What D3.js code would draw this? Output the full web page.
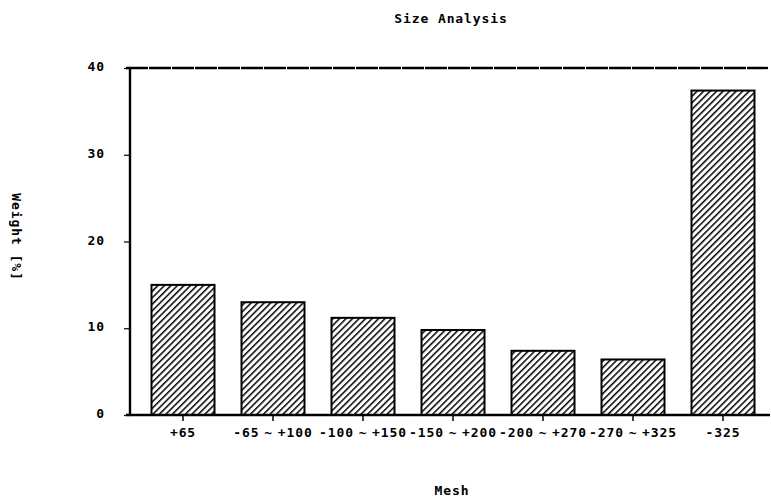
<!DOCTYPE html>
<html>
<head>
<meta charset="utf-8">
<script src="https://cdn.jsdelivr.net/npm/d3@7"></script>
<style>
  html, body { margin: 0; padding: 0; background: #fff; }
  svg { display: block; }
  text { font-family: "DejaVu Sans Mono", "Liberation Mono", monospace; font-size: 13px; font-weight: bold; fill: #000; letter-spacing: 0.9px; }
</style>
</head>
<body>
<svg id="chart" width="771" height="500"></svg>
<script>
const categories = ["+65", "-65 ~ +100", "-100 ~ +150", "-150 ~ +200", "-200 ~ +270", "-270 ~ +325", "-325"];
const weights = [15.0, 13.0, 11.2, 9.8, 7.4, 6.4, 37.4];
const yTicks = [0, 10, 20, 30, 40];
const yTickLabels = ["0", "10", "20", "30", "40"];
const title = "Size Analysis";
const xTitle = "Mesh";
const yTitle = "Weight [%]";

const svg = d3.select("#chart");
const W = 771, H = 500;
const m = { left: 130, right: 1, top: 68, bottom: 85 };

const x = d3.scaleBand().domain(categories).range([138, 768]).paddingInner(0.3).paddingOuter(0.15);
const y = d3.scaleLinear().domain([0, 40]).range([H - m.bottom, m.top]);

// hatch pattern
const defs = svg.append("defs");
const pat = defs.append("pattern")
  .attr("id", "hatch")
  .attr("patternUnits", "userSpaceOnUse")
  .attr("width", 4.6).attr("height", 4.6)
  .attr("patternTransform", "rotate(45)");
pat.append("rect").attr("width", 4.6).attr("height", 4.6).attr("fill", "#fff");
pat.append("line").attr("x1", 0).attr("y1", 0).attr("x2", 0).attr("y2", 4.6)
  .attr("stroke", "#000").attr("stroke-width", 3);

// bars
svg.append("g").selectAll("rect").data(weights).join("rect")
  .attr("x", (d, i) => x(categories[i]))
  .attr("y", d => y(d))
  .attr("width", x.bandwidth())
  .attr("height", d => y(0) - y(d))
  .attr("fill", "url(#hatch)")
  .attr("stroke", "#000")
  .attr("stroke-width", 2);

// y axis
const yAxis = svg.append("g").attr("transform", `translate(${m.left},0)`)
  .call(d3.axisLeft(y).tickValues(yTicks).tickSize(6).tickPadding(19)
    .tickFormat((d, i) => yTickLabels[i]));
yAxis.select(".domain").remove();
yAxis.selectAll("line").attr("stroke", "#000").attr("stroke-width", 1.2);
yAxis.selectAll("text").attr("font-size", 13).attr("font-family", null).attr("dy", "0.2em");

// x axis
const xAxis = svg.append("g").attr("transform", `translate(0,${y(0)})`)
  .call(d3.axisBottom(x).tickSize(6).tickPadding(7));
xAxis.select(".domain").remove();
xAxis.selectAll("line").attr("stroke", "#000").attr("stroke-width", 1.5);
xAxis.selectAll("text").attr("font-size", 13).attr("font-family", null).style("word-spacing", "-4px");

// frame lines
svg.append("line").attr("x1", m.left).attr("x2", m.left).attr("y1", y(40) - 1).attr("y2", y(0) + 1)
  .attr("stroke", "#000").attr("stroke-width", 2.4);
svg.append("line").attr("x1", 126).attr("x2", 770).attr("y1", y(0)).attr("y2", y(0))
  .attr("stroke", "#000").attr("stroke-width", 2.4);
svg.append("line").attr("x1", 126).attr("x2", 768).attr("y1", y(40)).attr("y2", y(40))
  .attr("stroke", "#000").attr("stroke-width", 2.4).attr("stroke-dasharray", "22 1");

// titles
svg.append("text").attr("x", 451).attr("y", 23).attr("text-anchor", "middle").text(title);
svg.append("text").attr("x", 452).attr("y", 495).attr("text-anchor", "middle").text(xTitle);
svg.append("text").attr("transform", "translate(12,237) rotate(90)")
  .attr("text-anchor", "middle").text(yTitle);
</script>
</body>
</html>
